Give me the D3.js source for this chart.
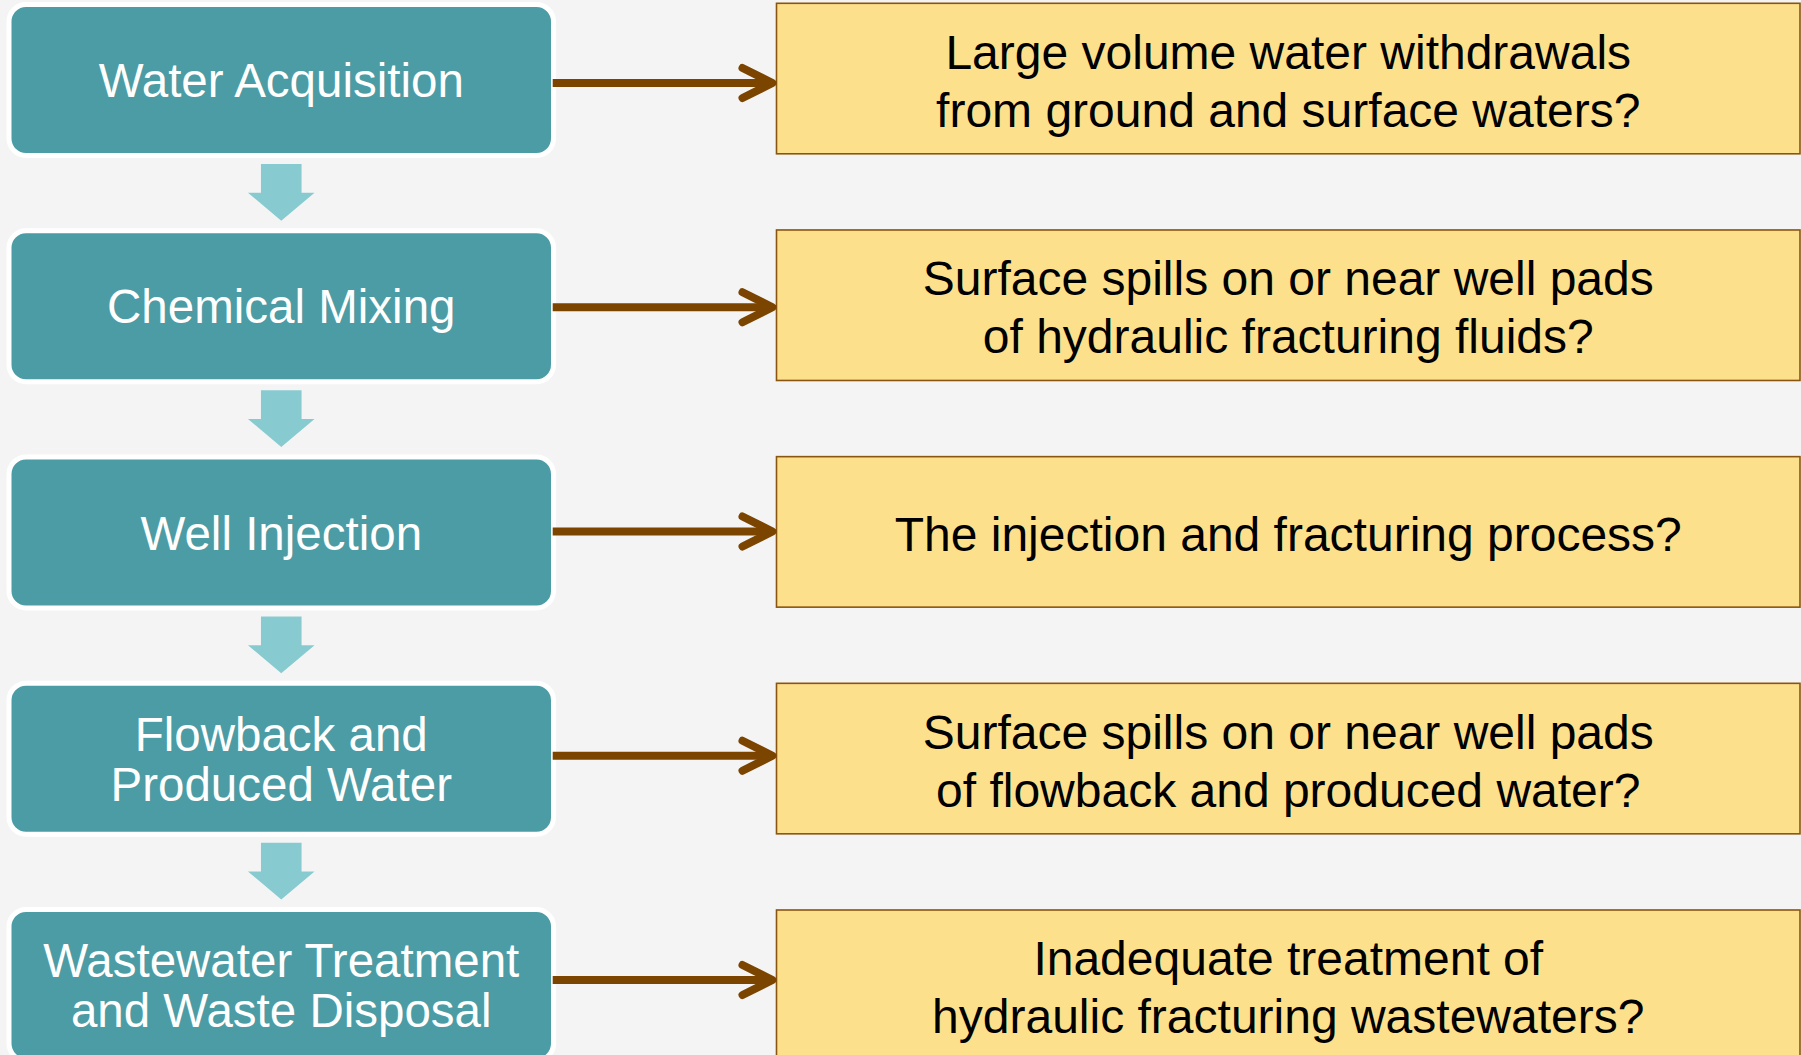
<!DOCTYPE html>
<html>
<head>
<meta charset="utf-8">
<script src="https://cdn.jsdelivr.net/npm/d3@7"></script>
<style>
  html, body { margin: 0; padding: 0; background: #f4f4f4; overflow: hidden; }
  svg { display: block; }
</style>
</head>
<body>
<svg id="chart" width="1801" height="1055"></svg>
<script>
// Process stages (left column) and the question asked of each (right column)
const stages = [
    ['Water Acquisition'],
    ['Chemical Mixing'],
    ['Well Injection'],
    ['Flowback and', 'Produced Water'],
    ['Wastewater Treatment', 'and Waste Disposal'],
];

const impacts = [
    ['Large volume water withdrawals', 'from ground and surface waters?'],
    ['Surface spills on or near well pads', 'of hydraulic fracturing fluids?'],
    ['The injection and fracturing process?'],
    ['Surface spills on or near well pads', 'of flowback and produced water?'],
    ['Inadequate treatment of', 'hydraulic fracturing wastewaters?'],
];

const TEAL = '#4b9ca5';
const PALE = '#87cbd1';
const YELLOW = '#fde08c';
const BROWN = '#7b4500';
const FONT = '"Liberation Sans", Arial, sans-serif';

const svg = d3.select('#chart');
const idx = d3.range(stages.length);

// row positions
const tealTop = d3.scaleLinear().domain([0, stages.length - 1]).range([7, 912]);
const boxTop = d3.scaleLinear().domain([0, impacts.length - 1]).range([3.3, 910]);
const arrowY = d3.scaleLinear().domain([0, stages.length - 1]).range([83, 980]);

const left = { x0: 11.5, x1: 551, h: 146 };
const right = { x0: 776.5, x1: 1800, h: 150.5 };
const cx = (left.x0 + left.x1) / 2;

// stage boxes
const gStage = svg.append('g').selectAll('g')
    .data(idx)
    .join('g');

gStage.append('rect')
    .attr('x', left.x0 - 2.5)
    .attr('y', i => tealTop(i) - 2.5)
    .attr('width', left.x1 - left.x0 + 5)
    .attr('height', left.h + 5)
    .attr('rx', 17)
    .attr('fill', TEAL)
    .attr('stroke', '#fff')
    .attr('stroke-width', 5);

gStage.append('text')
    .attr('text-anchor', 'middle')
    .attr('font-family', FONT)
    .attr('font-size', 47.5)
    .attr('fill', '#fff')
    .selectAll('tspan')
    .data(i => stages[i].map((t, k, a) => ({ t, k, n: a.length, i })))
    .join('tspan')
    .attr('x', cx)
    .attr('y', d => tealTop(d.i) + left.h / 2 + 17 + (d.k - (d.n - 1) / 2) * 50)
    .text(d => d.t);

// down arrows between stages
const down = (y) => {
    const sw = 20.3, hw = 33.3;
    const p = d3.path();
    p.moveTo(cx - sw, y);
    p.lineTo(cx + sw, y);
    p.lineTo(cx + sw, y + 28.7);
    p.lineTo(cx + hw, y + 28.7);
    p.lineTo(cx, y + 56.7);
    p.lineTo(cx - hw, y + 28.7);
    p.lineTo(cx - sw, y + 28.7);
    p.closePath();
    return p.toString();
};

svg.append('g').selectAll('path')
    .data(idx.slice(0, -1))
    .join('path')
    .attr('d', i => down(tealTop(i) + left.h + 11))
    .attr('fill', PALE);

// impact boxes
const gImpact = svg.append('g').selectAll('g')
    .data(idx)
    .join('g');

gImpact.append('rect')
    .attr('x', right.x0)
    .attr('y', i => boxTop(i))
    .attr('width', right.x1 - right.x0)
    .attr('height', right.h)
    .attr('fill', YELLOW)
    .attr('stroke', '#8a5510')
    .attr('stroke-width', 1.6);

gImpact.append('text')
    .attr('text-anchor', 'middle')
    .attr('font-family', FONT)
    .attr('font-size', 48)
    .attr('fill', '#000')
    .selectAll('tspan')
    .data(i => impacts[i].map((t, k, a) => ({ t, k, n: a.length, i })))
    .join('tspan')
    .attr('x', (right.x0 + right.x1) / 2)
    .attr('y', d => boxTop(d.i) + right.h / 2 + 19 + (d.k - (d.n - 1) / 2) * 58)
    .text(d => d.t);

// connecting arrows
const gArrow = svg.append('g')
    .attr('stroke', BROWN)
    .attr('stroke-width', 8)
    .attr('fill', 'none');

gArrow.selectAll('line')
    .data(idx)
    .join('line')
    .attr('x1', 552.7)
    .attr('x2', right.x0 - 5)
    .attr('y1', i => arrowY(i))
    .attr('y2', i => arrowY(i));

gArrow.selectAll('path')
    .data(idx)
    .join('path')
    .attr('stroke-linecap', 'round')
    .attr('stroke-linejoin', 'round')
    .attr('d', i => {
        const y = arrowY(i), tip = right.x0 - 4;
        return `M${tip - 30},${y - 15}L${tip},${y}L${tip - 30},${y + 15}`;
    });
</script>
</body>
</html>
